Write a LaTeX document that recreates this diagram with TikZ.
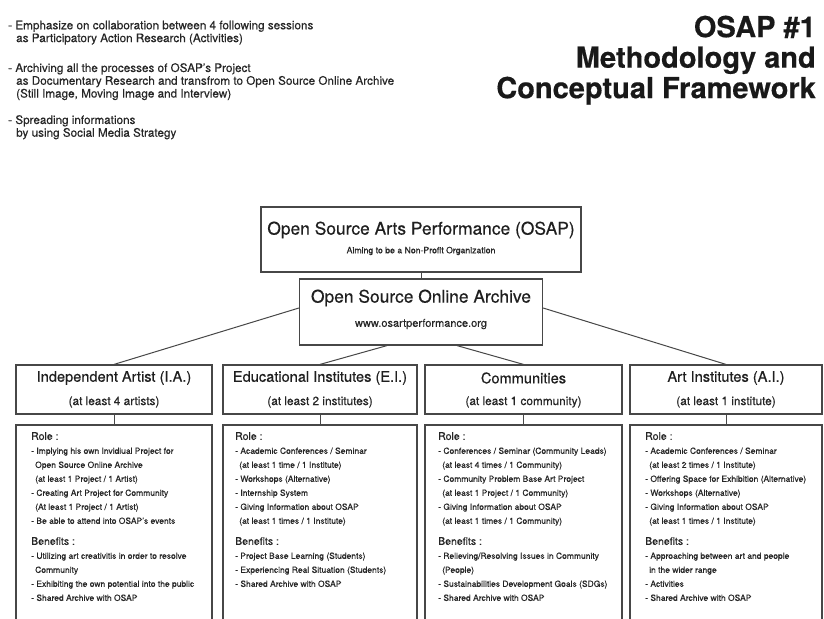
\documentclass[tikz,border=0pt]{standalone}
\usepackage{fontspec}
\setmainfont{TeX Gyre Heros}[FakeBold=0.4]
\begin{document}
\begin{tikzpicture}[x=1pt,y=-1pt,
  frame/.style={draw=black!72, line width=1.2pt, inner sep=0pt, fill=white},
  conn/.style={draw=black!72, line width=1pt},
  ttl/.style={font=\fontsize{17.4}{20}\selectfont, text=black!88, inner sep=0pt},
  smalltx/.style={font=\fontsize{#1}{13}\selectfont, text=black!85, inner sep=0pt},
  hd/.style={font=\fontsize{14.6}{17}\selectfont, text=black!88, inner sep=0pt},
  sb/.style={font=\fontsize{11.8}{14}\selectfont, text=black!85, inner sep=0pt},
  lst/.style={font=\fontsize{8.5}{14}\selectfont, align=left, anchor=north west, inner sep=0pt, text=black!85},
  intro/.style={font=\fontsize{11.7}{12.8}\selectfont, align=left, anchor=north west, inner sep=0pt, text=black!85},
]
\useasboundingbox (0,0) rectangle (824,618);
\clip (0,0) rectangle (824,618);
\fill[white] (0,0) rectangle (824,618);

% intro text
\node[intro] (p1) at (8,20.5) {- Emphasize on collaboration between 4 following sessions\\\hspace*{8pt}as Participatory Action Research (Activities)};
\node[intro] (p2) at (8,63) {- Archiving all the processes of OSAP's Project\\\hspace*{8pt}as Documentary Research and transfrom to Open Source Online Archive\\\hspace*{8pt}(Still Image, Moving Image and Interview)};
\node[intro] (p3) at (8,115) {- Spreading informations\\\hspace*{8pt}by using Social Media Strategy};

% title
\node[font=\fontsize{29}{30.5}\selectfont\bfseries, align=right, anchor=north east, inner sep=0pt, text=black!90] (title) at (816,15.5) {OSAP \#1\\Methodology and\\Conceptual Framework};

% top boxes
\node[frame, minimum width=320pt, minimum height=65pt] (top) at (421,239.5) {};
\node[ttl] (topt) at (421,230) {Open Source Arts Performance (OSAP)};
\node[smalltx=8.7] (tops) at (421,251) {Aiming to be a Non-Profit Organization};

\node[frame, minimum width=243pt, minimum height=66pt] (arch) at (421,312) {};
\node[ttl] (archt) at (421,298) {Open Source Online Archive};
\node[smalltx=11] (archs) at (421,324) {www.osartperformance.org};

% headers
\node[frame, minimum width=196pt, minimum height=49pt] (ia) at (114,389.5) {};
\node[frame, minimum width=194pt, minimum height=49pt] (ei) at (320,389.5) {};
\node[frame, minimum width=197pt, minimum height=49pt] (cm) at (523.5,389.5) {};
\node[frame, minimum width=192pt, minimum height=49pt] (ai) at (726,389.5) {};

\node[hd] (iat) at (114,378) {Independent Artist (I.A.)};
\node[sb] (ias) at (114,402) {(at least 4 artists)};
\node[hd] (eit) at (320,378) {Educational Institutes (E.I.)};
\node[sb] (eis) at (320,402) {(at least 2 institutes)};
\node[hd] (cmt) at (523.5,378) {Communities};
\node[sb] (cms) at (523.5,402) {(at least 1 community)};
\node[hd] (ait) at (726,378) {Art Institutes (A.I.)};
\node[sb] (ais) at (726,402) {(at least 1 institute)};

% role boxes (continue below the page edge)
\node[frame, minimum width=196pt, minimum height=195pt] (iar) at (114,522.5) {};
\node[frame, minimum width=194pt, minimum height=195pt] (eir) at (320,522.5) {};
\node[frame, minimum width=197pt, minimum height=195pt] (cmr) at (523.5,522.5) {};
\node[frame, minimum width=192pt, minimum height=195pt] (air) at (726,522.5) {};

% connectors
\draw[conn] (top.south) -- (arch.north);
\draw[conn] ([yshift=4pt]arch.west) -- (ia.north);
\draw[conn] ([xshift=-34pt]arch.south) -- (ei.north);
\draw[conn] ([xshift=36pt]arch.south) -- (cm.north);
\draw[conn] ([yshift=4pt]arch.east) -- (ai.north);
\draw[conn] (ia.south) -- (iar.north);
\draw[conn] (ei.south) -- (eir.north);
\draw[conn] (cm.south) -- (cmr.north);
\draw[conn] (ai.south) -- (air.north);

\newcommand{\rh}[1]{{\fontsize{10.5}{14}\selectfont #1}}
\newcommand{\ci}{\hspace*{4pt}}

\node[lst] (iatx) at (31,432) {\rh{Role :}\\
- Implying his own Invidiual Project for\\
\ci Open Source Online Archive\\
\ci(at least 1 Project / 1 Artist)\\
- Creating Art Project for Community\\
\ci(At least 1 Project / 1 Artist)\\
- Be able to attend into OSAP's events\\[7pt]
\rh{Benefits :}\\
- Utilizing art creativitis in order to resolve\\
\ci Community\\
- Exhibiting the own potential into the public\\
- Shared Archive with OSAP};

\node[lst] (eitx) at (235,432) {\rh{Role :}\\
- Academic Conferences / Seminar\\
\ci(at least 1 time / 1 Institute)\\
- Workshops (Alternative)\\
- Internship System\\
- Giving Information about OSAP\\
\ci(at least 1 times / 1 Institute)\\[7pt]
\rh{Benefits :}\\
- Project Base Learning (Students)\\
- Experiencing Real Situation (Students)\\
- Shared Archive with OSAP};

\node[lst] (cmtx) at (438,432) {\rh{Role :}\\
- Conferences / Seminar (Community Leads)\\
\ci(at least 4 times / 1 Community)\\
- Community Problem Base Art Project\\
\ci(at least 1 Project / 1 Community)\\
- Giving Information about OSAP\\
\ci(at least 1 times / 1 Community)\\[7pt]
\rh{Benefits :}\\
- Relieving/Resolving Issues in Community\\
\ci(People)\\
- Sustainabilities Development Goals (SDGs)\\
- Shared Archive with OSAP};

\node[lst] (aitx) at (645,432) {\rh{Role :}\\
- Academic Conferences / Seminar\\
\ci(at least 2 times / 1 Institute)\\
- Offering Space for Exhibition (Alternative)\\
- Workshops (Alternative)\\
- Giving Information about OSAP\\
\ci(at least 1 times / 1 Institute)\\[7pt]
\rh{Benefits :}\\
- Approaching between art and people\\
\ci in the wider range\\
- Activities\\
- Shared Archive with OSAP};
\end{tikzpicture}
\end{document}
